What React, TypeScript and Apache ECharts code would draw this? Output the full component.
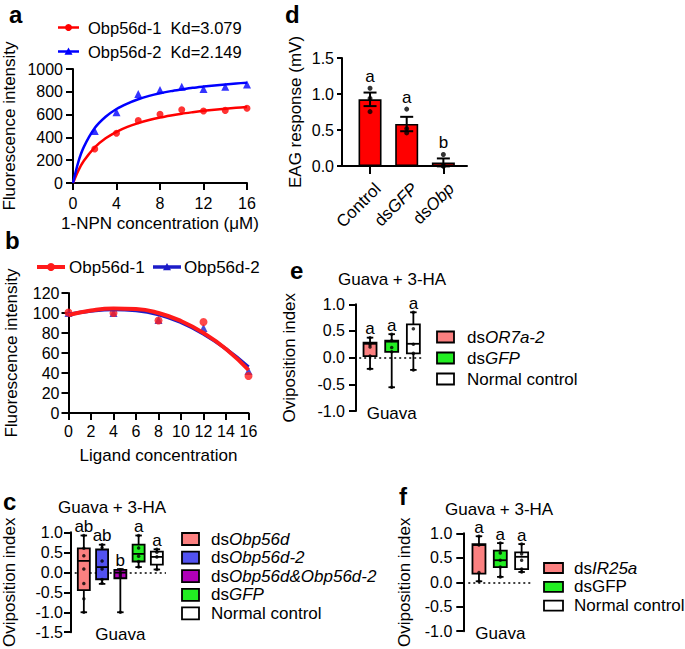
import React, { useEffect, useRef } from 'react';
import * as echarts from 'echarts';

const FONT = '"Liberation Sans", Arial, Helvetica, sans-serif';

// ---------- Panel a ----------
const aNames = ['Obp56d-1', 'Obp56d-2'];
const aKd = ['3.079', '2.149'];
const aConc = [2, 4, 6, 8, 10, 12, 14, 16];
const aObp1 = [298, 436, 547, 602, 643, 632, 637, 655];
const aObp2 = [456, 620, 781, 816, 845, 825, 845, 865];
const aFitX = [0, 0.5, 1, 2, 3, 4, 5, 6, 7, 8, 9, 10, 11, 12, 13, 14, 15, 16];
const aFit1 = [0, 111, 195, 313, 392, 449, 492, 525, 552, 574, 592, 608, 621, 633, 643, 652, 660, 667];
const aFit2 = [0, 188, 317, 482, 581, 649, 697, 735, 764, 787, 806, 821, 835, 846, 856, 865, 873, 880];

// ---------- Panel b ----------
const bNames = ['Obp56d-1', 'Obp56d-2'];
const bConc = [0, 4, 8, 12, 16];
const bObp1 = [100.5, 100, 92.5, 91, 37];
const bObp2 = [100, 100, 93, 85, 42];
const bFitX = [0, 2, 4, 6, 8, 10, 12, 14, 16];
const bFit1 = [98, 102.5, 104.5, 104, 100, 92, 80, 64, 43];
const bFit2 = [98.5, 102, 103.5, 102.5, 98.5, 90.5, 79, 64, 46];

// ---------- Panel c ----------
const cGroups = ['dsObp56d', 'dsObp56d-2', 'dsObp56d&Obp56d-2', 'dsGFP', 'Normal control'];
const cLegend = [['ds', 'Obp56d'], ['ds', 'Obp56d-2'], ['ds', 'Obp56d&Obp56d-2'], ['ds', 'GFP'], ['Normal control', '']];
// [min, q1, median, q3, max]
const cStats = [
  [-1.0, -0.445, 0.285, 0.6, 0.92],
  [-0.29, -0.175, 0.13, 0.57, 0.69],
  [-1.0, -0.15, -0.01, 0.06, 0.08],
  [0.13, 0.27, 0.46, 0.69, 0.92],
  [0.07, 0.19, 0.385, 0.515, 0.575],
];
const cDots = [
  [0.92, 0.6, 0.415, 0.08, -0.28, -0.66, -1.0],
  [0.69, 0.62, 0.28, 0.08, -0.18, -0.27],
  [0.06, -0.01, -0.06, -0.12, -1.0],
  [0.92, 0.61, 0.4, 0.27, 0.13],
  [0.575, 0.5, 0.385, 0.07],
];
const cLetters = ['ab', 'ab', 'b', 'a', 'a'];
const cColors = ['#fb8080', '#5252f0', '#b000b8', '#22ee22', '#ffffff'];

// ---------- Panel d ----------
const dGroups = ['Control', 'dsGFP', 'dsObp'];
const dLabel = [['Control', ''], ['ds', 'GFP'], ['ds', 'Obp']];
const dMean = [0.926, 0.583, 0.05];
const dSem = [0.094, 0.1, 0.055];
const dDots = [[1.08, 0.94, 0.755], [0.79, 0.52, 0.46], [0.16, 0.0, 0.0]];
const dLetters = ['a', 'a', 'b'];

// ---------- Panel e ----------
const eGroups = ['dsOR7a-2', 'dsGFP', 'Normal control'];
const eLegend = [['ds', 'OR7a-2'], ['ds', 'GFP'], ['Normal control', '']];
const eStats = [
  [-0.21, 0.03, 0.26, 0.28, 0.375],
  [-0.555, 0.11, 0.3, 0.32, 0.44],
  [-0.23, 0.08, 0.26, 0.625, 0.85],
];
const eDots = [[0.375, 0.24, 0.2, 0.03, -0.21], [0.44, 0.32, 0.19, 0.11, -0.555], [0.85, 0.54, 0.25, 0.08, -0.23]];
const eLetters = ['a', 'a', 'a'];
const eColors = ['#fb8080', '#22ee22', '#ffffff'];

// ---------- Panel f ----------
const fGroups = ['dsIR25a', 'dsGFP', 'Normal control'];
const fLegend = [['ds', 'IR25a'], ['dsGFP', ''], ['Normal control', '']];
const fStats = [
  [0.02, 0.175, 0.76, 0.78, 0.94],
  [0.11, 0.31, 0.45, 0.645, 0.8],
  [0.21, 0.27, 0.52, 0.61, 0.78],
];
const fDots = [[0.94, 0.76, 0.2, 0.02], [0.8, 0.6, 0.45, 0.31, 0.11], [0.78, 0.58, 0.45, 0.27, 0.21]];
const fLetters = ['a', 'a', 'a'];
const fColors = ['#fb8080', '#22ee22', '#ffffff'];

const panelTitle = 'Guava + 3-HA';
const catName = 'Guava';
const oviName = 'Oviposition index';

const richStyles = {
  n: { fontSize: 17, fontFamily: FONT, color: '#000' },
  i: { fontSize: 17, fontFamily: FONT, color: '#000', fontStyle: 'italic' },
};
const mkRich = (p: string[]) => (p[0] ? `{n|${p[0]}}` : '') + (p[1] ? `{i|${p[1]}}` : '');

const axLine = (show = true) => ({ show, onZero: false, lineStyle: { color: '#000', width: 2 } });
const axTick = (len: number) => ({ show: true, length: len, lineStyle: { color: '#000', width: 2 } });
const axLabel = (margin: number, extra: any = {}) => ({ color: '#000', fontSize: 16, fontFamily: FONT, margin, ...extra });
const nameStyle = { color: '#000', fontSize: 17, fontFamily: FONT };
const dec1 = (v: number) => v.toFixed(1);
const plain = (v: number) => String(v);

function boxRenderer(colors: string[], letters: string[], boxW: number, capW: number) {
  return (params: any, api: any) => {
    const i = params.dataIndex;
    const x = api.value(0);
    const c = (v: number) => api.coord([x, v]);
    const pMin = c(api.value(1));
    const pQ1 = c(api.value(2));
    const pMed = c(api.value(3));
    const pQ3 = c(api.value(4));
    const pMax = c(api.value(5));
    const cx = pMax[0];
    const st = { stroke: '#000', lineWidth: 1.8 };
    return {
      type: 'group',
      children: [
        { type: 'line', shape: { x1: cx, y1: pMax[1], x2: cx, y2: pQ3[1] }, style: st },
        { type: 'line', shape: { x1: cx, y1: pQ1[1], x2: cx, y2: pMin[1] }, style: st },
        { type: 'line', shape: { x1: cx - capW / 2, y1: pMax[1], x2: cx + capW / 2, y2: pMax[1] }, style: st },
        { type: 'line', shape: { x1: cx - capW / 2, y1: pMin[1], x2: cx + capW / 2, y2: pMin[1] }, style: st },
        {
          type: 'rect',
          shape: { x: cx - boxW / 2, y: pQ3[1], width: boxW, height: pQ1[1] - pQ3[1] },
          style: { fill: colors[i], stroke: '#000', lineWidth: 1.8 },
        },
        { type: 'line', shape: { x1: cx - boxW / 2, y1: pMed[1], x2: cx + boxW / 2, y2: pMed[1] }, style: st },
        {
          type: 'text',
          x: cx,
          y: pMax[1] - 9,
          style: {
            text: letters[i], fill: '#000', fontSize: 17, fontFamily: FONT,
            align: 'center', verticalAlign: 'middle', textAlign: 'center', textVerticalAlign: 'middle',
          },
        },
      ],
    };
  };
}

function errRenderer(letters: string[], capW: number) {
  return (params: any, api: any) => {
    const i = params.dataIndex;
    const x = api.value(0);
    const m = api.value(1);
    const s = api.value(2);
    const top = api.coord([x, m + s]);
    const bot = api.coord([x, m - s]);
    const dotTop = api.coord([x, api.value(3)]);
    const cx = top[0];
    const st = { stroke: '#000', lineWidth: 2 };
    const highest = Math.min(top[1], dotTop[1] - 2.5);
    return {
      type: 'group',
      children: [
        { type: 'line', shape: { x1: cx, y1: top[1], x2: cx, y2: bot[1] }, style: st },
        { type: 'line', shape: { x1: cx - capW / 2, y1: top[1], x2: cx + capW / 2, y2: top[1] }, style: st },
        { type: 'line', shape: { x1: cx - capW / 2, y1: bot[1], x2: cx + capW / 2, y2: bot[1] }, style: st },
        {
          type: 'text',
          x: cx,
          y: highest - 9,
          style: {
            text: letters[i], fill: '#000', fontSize: 17, fontFamily: FONT,
            align: 'center', verticalAlign: 'middle', textAlign: 'center', textVerticalAlign: 'middle',
          },
        },
      ],
    };
  };
}

function textEl(text: string, x: number, y: number, size: number, bold = false, align = 'left', rich?: any) {
  return {
    type: 'text',
    x, y,
    style: {
      text, fill: '#000', fontSize: size, fontFamily: FONT, fontWeight: bold ? 'bold' : 'normal',
      align, verticalAlign: 'middle', textAlign: align, textVerticalAlign: 'middle',
      ...(rich ? { rich } : {}),
    },
  };
}

function boxLegend(labels: string[][], colors: string[], x: number, y0: number, step: number, w: number, h: number, tx: number) {
  const els: any[] = [];
  labels.forEach((p, i) => {
    const cy = y0 + i * step;
    els.push({ type: 'rect', shape: { x, y: cy - h / 2, width: w, height: h }, style: { fill: colors[i], stroke: '#000', lineWidth: 1.8 } });
    els.push(textEl(mkRich(p), tx, cy, 17, false, 'left', richStyles));
  });
  return els;
}

function lineLegendItem(color: string, x1: number, x2: number, y: number, lw: number, sym: 'circle' | 'triangle', r: number) {
  const cx = (x1 + x2) / 2;
  const els: any[] = [{ type: 'line', shape: { x1, y1: y, x2, y2: y }, style: { stroke: color, lineWidth: lw } }];
  if (sym === 'circle') els.push({ type: 'circle', shape: { cx, cy: y, r }, style: { fill: color } });
  else els.push({ type: 'polygon', shape: { points: [[cx, y - r], [cx - r, y + r * 0.8], [cx + r, y + r * 0.8]] }, style: { fill: color } });
  return els;
}

function buildOption(): any {
  const grids = [
    { left: 73, top: 69, width: 174, height: 114 }, // 0 a
    { left: 68.5, top: 293, width: 180, height: 120 }, // 1 b
    { left: 67, top: 532.3, width: 99, height: 108.4 }, // 2 c
    { left: 342, top: 58, width: 125, height: 108 }, // 3 d axes
    { left: 351.7, top: 58, width: 110, height: 108 }, // 4 d bars
    { left: 359.2, top: 304.3, width: 65, height: 106.7 }, // 5 e
    { left: 468.3, top: 533.3, width: 64, height: 106.7 }, // 6 f
    { left: 359.7, top: 58, width: 110, height: 108 }, // 7 d category labels
  ].map((g) => ({ ...g, containLabel: false }));

  const catAxis = (idx: number, data: string[], gap: number) => ({
    type: 'category', gridIndex: idx, data, boundaryGap: true,
    axisLine: { show: false, onZero: false }, axisTick: { show: false }, axisLabel: { show: false },
    name: catName, nameLocation: 'middle', nameGap: gap, nameTextStyle: nameStyle,
  });

  const xAxis = [
    {
      type: 'value', gridIndex: 0, min: 0, max: 16, interval: 4,
      axisLine: axLine(), axisTick: axTick(7), axisLabel: axLabel(12), splitLine: { show: false },
      name: '1-NPN concentration (μM)', nameLocation: 'middle', nameGap: 32, nameTextStyle: nameStyle,
    },
    {
      type: 'value', gridIndex: 1, min: 0, max: 16, interval: 2,
      axisLine: axLine(), axisTick: axTick(7), axisLabel: axLabel(10), splitLine: { show: false },
      name: 'Ligand concentration', nameLocation: 'middle', nameGap: 34, nameTextStyle: nameStyle,
    },
    catAxis(2, cGroups, -6),
    {
      type: 'value', gridIndex: 3, min: 0, max: 1,
      axisLine: axLine(), axisTick: { show: false }, axisLabel: { show: false }, splitLine: { show: false },
    },
    {
      type: 'category', gridIndex: 4, data: dGroups, boundaryGap: true,
      axisLine: { show: false }, axisTick: { ...axTick(8), alignWithLabel: true },
      axisLabel: { show: false },
    },
    catAxis(5, eGroups, -6),
    catAxis(6, fGroups, -6),
    {
      type: 'category', gridIndex: 7, data: dGroups, boundaryGap: true,
      axisLine: { show: false }, axisTick: { show: false },
      axisLabel: {
        ...axLabel(20), rotate: 45, fontSize: 17,
        formatter: (v: string) => mkRich(dLabel[dGroups.indexOf(v)]),
        rich: { n: { ...richStyles.n }, i: { ...richStyles.i } },
      },
    },
  ];

  const yVal = (idx: number, min: number, max: number, interval: number, margin: number, tick: number, name: string | null, gap: number, offset = 0, fmt?: any) => ({
    type: 'value', gridIndex: idx, min, max, interval, offset,
    axisLine: axLine(), axisTick: axTick(tick), axisLabel: axLabel(margin, fmt ? { formatter: fmt } : {}),
    splitLine: { show: false },
    ...(name ? { name, nameLocation: 'middle', nameRotate: 90, nameGap: gap, nameTextStyle: nameStyle } : {}),
  });

  const yAxis = [
    yVal(0, 0, 1000, 200, 10, 7, 'Fluorescence intensity', 55, 0, plain),
    yVal(1, 0, 120, 20, 9, 7, 'Fluorescence intensity', 49, 0, plain),
    yVal(2, -1.5, 1.0, 0.5, 8, 7, oviName, 53, 3.7, dec1),
    yVal(3, 0, 1.5, 0.5, 8, 5, 'EAG response (mV)', 38, 0, dec1),
    { type: 'value', gridIndex: 4, min: 0, max: 1.5, show: false },
    yVal(5, -1.0, 1.0, 0.5, 11, 7, oviName, 58, 3.2, dec1),
    yVal(6, -1.0, 1.0, 0.5, 11, 7, oviName, 50, 5, dec1),
    { type: 'value', gridIndex: 7, min: 0, max: 1.5, show: false },
  ];

  const zeroLine = {
    silent: true, symbol: ['none', 'none'], label: { show: false }, z: 1,
    lineStyle: { type: [2, 3], color: '#000', width: 1.6 }, data: [{ yAxis: 0 }],
  };

  const series: any[] = [
    // a
    {
      type: 'line', name: aNames[0], xAxisIndex: 0, yAxisIndex: 0, data: aFitX.map((x, i) => [x, aFit1[i]]),
      smooth: 0.3, showSymbol: false, lineStyle: { color: '#ff0000', width: 2.5 }, itemStyle: { color: '#ff0000' },
    },
    {
      type: 'line', name: aNames[1], xAxisIndex: 0, yAxisIndex: 0, data: aFitX.map((x, i) => [x, aFit2[i]]),
      smooth: 0.3, showSymbol: false, lineStyle: { color: '#0000ff', width: 2.5 }, itemStyle: { color: '#0000ff' },
    },
    { type: 'scatter', xAxisIndex: 0, yAxisIndex: 0, data: aConc.map((x, i) => [x, aObp1[i]]), symbol: 'circle', symbolSize: 7, itemStyle: { color: '#ff0000' } },
    { type: 'scatter', xAxisIndex: 0, yAxisIndex: 0, data: aConc.map((x, i) => [x, aObp2[i]]), symbol: 'triangle', symbolSize: 8, itemStyle: { color: '#0000ff' } },
    // b
    {
      type: 'line', name: bNames[1], xAxisIndex: 1, yAxisIndex: 1, data: bFitX.map((x, i) => [x, bFit2[i]]),
      smooth: true, showSymbol: false, lineStyle: { color: '#1c1cc8', width: 3.5 },
    },
    { type: 'scatter', xAxisIndex: 1, yAxisIndex: 1, data: bConc.map((x, i) => [x, bObp2[i]]), symbol: 'triangle', symbolSize: 8, itemStyle: { color: '#1c1cc8' } },
    {
      type: 'line', name: bNames[0], xAxisIndex: 1, yAxisIndex: 1, data: bFitX.map((x, i) => [x, bFit1[i]]),
      smooth: true, showSymbol: false, lineStyle: { color: '#ff1a1a', width: 4 },
    },
    { type: 'scatter', xAxisIndex: 1, yAxisIndex: 1, data: bConc.map((x, i) => [x, bObp1[i]]), symbol: 'circle', symbolSize: 8, itemStyle: { color: '#ff1a1a' } },
    // c
    {
      type: 'custom', xAxisIndex: 2, yAxisIndex: 2, z: 2,
      data: cStats.map((s, i) => [i, ...s]), encode: { x: 0, y: [1, 2, 3, 4, 5] },
      renderItem: boxRenderer(cColors, cLetters, 12, 6.5),
    },
    {
      type: 'scatter', xAxisIndex: 2, yAxisIndex: 2, z: 3, symbolSize: 3.5, itemStyle: { color: '#000' },
      data: cDots.flatMap((arr, i) => arr.map((v) => [i, v])), markLine: zeroLine,
    },
    // d
    {
      type: 'bar', xAxisIndex: 4, yAxisIndex: 4, data: dMean, barWidth: 23,
      itemStyle: { color: '#ff0000', borderColor: '#000', borderWidth: 1.6 },
    },
    {
      type: 'custom', xAxisIndex: 4, yAxisIndex: 4, z: 3,
      data: dGroups.map((g, i) => [i, dMean[i], dSem[i], Math.max(...dDots[i])]), encode: { x: 0, y: 1 },
      renderItem: errRenderer(dLetters, 13),
    },
    {
      type: 'scatter', xAxisIndex: 4, yAxisIndex: 4, z: 4, symbolSize: 5, itemStyle: { color: '#000' },
      data: dDots.flatMap((arr, i) => arr.map((v) => [i, v])),
    },
    // e
    {
      type: 'custom', xAxisIndex: 5, yAxisIndex: 5, z: 2,
      data: eStats.map((s, i) => [i, ...s]), encode: { x: 0, y: [1, 2, 3, 4, 5] },
      renderItem: boxRenderer(eColors, eLetters, 13, 6.5),
    },
    {
      type: 'scatter', xAxisIndex: 5, yAxisIndex: 5, z: 3, symbolSize: 3.5, itemStyle: { color: '#000' },
      data: eDots.flatMap((arr, i) => arr.map((v) => [i, v])), markLine: zeroLine,
    },
    // f
    {
      type: 'custom', xAxisIndex: 6, yAxisIndex: 6, z: 2,
      data: fStats.map((s, i) => [i, ...s]), encode: { x: 0, y: [1, 2, 3, 4, 5] },
      renderItem: boxRenderer(fColors, fLetters, 13, 6.5),
    },
    {
      type: 'scatter', xAxisIndex: 6, yAxisIndex: 6, z: 3, symbolSize: 3.5, itemStyle: { color: '#000' },
      data: fDots.flatMap((arr, i) => arr.map((v) => [i, v])), markLine: zeroLine,
    },
  ];

  const graphics: any[] = [
    textEl('a', 9, 14.5, 24, true),
    textEl('b', 5, 240, 24, true),
    textEl('c', 3, 501, 24, true),
    textEl('d', 285, 14.5, 24, true),
    textEl('e', 290, 270.5, 24, true),
    textEl('f', 399, 496.5, 24, true),
    textEl(panelTitle, 58, 507, 17),
    textEl(panelTitle, 338, 279, 17),
    textEl(panelTitle, 445, 509, 17),
    // legend a
    ...lineLegendItem('#ff0000', 58, 79, 27.5, 2.5, 'circle', 3.5),
    textEl(`${aNames[0]}  Kd=${aKd[0]}`, 88, 28, 16.5),
    ...lineLegendItem('#0000ff', 58, 79, 51.5, 2.5, 'triangle', 4),
    textEl(`${aNames[1]}  Kd=${aKd[1]}`, 88, 51.5, 16.5),
    // legend b
    ...lineLegendItem('#ff1a1a', 37, 65, 267, 4, 'circle', 4),
    textEl(bNames[0], 69, 267, 17),
    ...lineLegendItem('#1c1cc8', 153, 181, 267, 3.5, 'triangle', 4),
    textEl(bNames[1], 184, 267, 17),
    // box legends
    ...boxLegend(cLegend, cColors, 182, 539, 18.6, 17, 12, 211),
    ...boxLegend(eLegend, eColors, 437, 337, 21, 17, 11, 467),
    ...boxLegend(fLegend, fColors, 544, 568, 18.8, 19, 10, 574),
  ];

  return {
    animation: false,
    backgroundColor: '#ffffff',
    textStyle: { fontFamily: FONT },
    grid: grids,
    xAxis,
    yAxis,
    series,
    graphic: { elements: graphics },
  };
}

export default function App() {
  const ref = useRef<HTMLDivElement>(null);
  useEffect(() => {
    if (!ref.current) return;
    const chart = echarts.init(ref.current, undefined, { renderer: 'svg' });
    chart.setOption(buildOption());
    return () => chart.dispose();
  }, []);
  return <div ref={ref} style={{ position: 'absolute', left: 0, top: 0, width: 685, height: 649 }} />;
}
